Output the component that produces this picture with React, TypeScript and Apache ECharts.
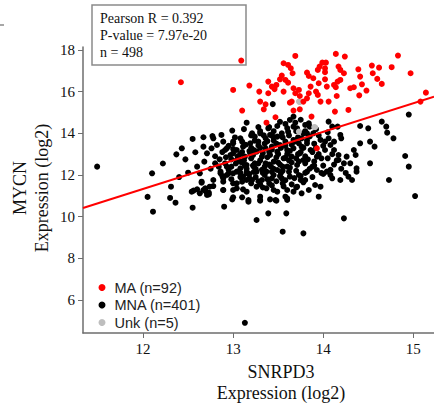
import React, { useEffect, useRef } from "react";
import * as echarts from "echarts";

const xTicks = [12, 13, 14, 15];
const yTicks = [6, 8, 10, 12, 14, 16, 18];
const legendNames = ["MA (n=92)", "MNA (n=401)", "Unk (n=5)"];
const statLines = ["Pearson R = 0.392", "P-value = 7.97e-20", "n = 498"];
const fitLine = [[11.333, 10.42], [15.23, 15.76]];

const maPoints = [
  [13.09, 17.49], [13.69, 17.71], [14.14, 17.81], [14.24, 17.68], [14.83, 17.73],
  [13.56, 17.36], [13.61, 17.28], [13.64, 17.12], [13.66, 16.88], [13.99, 17.39],
  [14.03, 17.39], [13.96, 17.2], [14.02, 17.12], [13.94, 17.04], [14.02, 16.93],
  [13.82, 16.91], [13.84, 16.75], [13.89, 16.64], [14.17, 17.2], [14.19, 17.04],
  [14.23, 16.88], [14.39, 17.07], [14.54, 17.25], [14.62, 17.15], [14.76, 17.17],
  [14.97, 16.88], [14.55, 16.88], [14.6, 16.61], [14.65, 16.37], [14.41, 16.72],
  [14.43, 16.35], [14.3, 16.16], [14.34, 16.21], [14.4, 15.82], [14.19, 16.56],
  [14.16, 16.48], [14.14, 16.21], [14.15, 15.79], [14.12, 16.32], [14.04, 16.24],
  [13.95, 16.4], [14.02, 16.59], [13.54, 16.77], [13.52, 16.59], [13.58, 16.56],
  [13.61, 16.43], [13.39, 16.48], [13.43, 16.24], [13.48, 16.32], [13.56, 16.0],
  [13.67, 16.16], [13.73, 16.08], [13.69, 15.92], [13.74, 15.79], [13.84, 15.92],
  [13.86, 16.24], [13.92, 16.0], [13.94, 15.84], [13.97, 15.52], [14.06, 15.52],
  [13.82, 15.68], [13.78, 15.52], [13.65, 15.52], [13.0, 16.08], [13.18, 16.29],
  [13.39, 15.92], [13.3, 15.52], [13.36, 15.39], [13.34, 15.15], [13.1, 15.09],
  [13.47, 14.77], [13.67, 15.09], [13.74, 15.15], [13.87, 14.8], [14.13, 15.04],
  [14.28, 15.12], [15.14, 15.95], [15.08, 15.52], [12.42, 16.45], [13.93, 13.28],
  [13.37, 14.51], [13.63, 15.47], [13.29, 16.0], [14.48, 16.05], [13.46, 16.12]
];

const unkPoints = [
  [13.73, 15.52], [13.91, 14.29], [13.73, 14.08], [13.74, 15.5], [13.9, 14.3]
];

const mnaPoints = [
  [13.13, 4.91], [11.49, 12.4], [12.1, 12.08], [12.11, 10.24], [12.31, 11.44],
  [12.36, 10.67], [12.55, 10.43], [12.37, 12.99], [12.43, 13.28], [12.47, 12.75],
  [12.55, 13.73], [12.58, 13.09], [12.5, 12.11], [12.6, 12.4], [12.63, 12.08],
  [12.65, 11.68], [12.69, 11.36], [12.56, 11.25], [12.6, 11.31], [12.73, 11.07],
  [12.7, 11.2], [12.78, 11.47], [12.89, 11.28], [12.9, 10.48], [12.99, 10.83],
  [13.0, 11.28], [13.04, 11.6], [13.11, 11.31], [13.17, 10.8], [13.26, 9.84],
  [12.67, 13.81], [12.78, 13.76], [12.87, 13.92], [12.99, 14.13], [13.15, 14.51],
  [13.21, 14.0], [12.67, 13.36], [12.71, 13.04], [12.68, 12.64], [12.76, 13.28],
  [12.82, 13.44], [12.89, 13.6], [12.93, 13.28], [13.0, 13.6], [13.08, 13.76],
  [13.11, 13.36], [13.19, 13.52], [13.24, 13.84], [13.23, 13.2], [13.0, 13.04],
  [13.08, 12.64], [12.8, 12.56], [12.86, 12.16], [12.95, 12.08], [13.04, 12.16],
  [13.15, 12.16], [12.93, 12.4], [13.15, 11.76], [13.23, 12.4], [12.89, 11.84],
  [13.11, 11.92], [12.77, 13.87], [13.3, 14.0], [13.28, 13.6], [13.36, 13.76],
  [13.39, 14.24], [13.49, 14.35], [13.58, 14.45], [13.41, 13.92], [13.49, 13.84],
  [13.54, 14.0], [13.61, 14.08], [13.69, 14.51], [13.71, 14.24], [13.8, 14.4],
  [13.82, 14.0], [13.76, 13.76], [13.67, 13.68], [13.58, 13.6], [13.52, 13.44],
  [13.43, 13.36], [13.36, 13.28], [13.26, 13.12], [13.19, 13.04], [13.32, 12.88],
  [13.41, 12.96], [13.49, 13.12], [13.6, 13.2], [13.67, 13.28], [13.76, 13.36],
  [13.82, 13.52], [13.74, 13.04], [13.65, 12.88], [13.56, 12.8], [13.45, 12.64],
  [13.36, 12.56], [13.24, 12.56], [13.15, 12.48], [13.08, 12.32], [13.0, 12.08],
  [12.93, 12.0], [12.86, 12.08], [12.84, 12.4], [12.91, 12.56], [13.04, 12.72],
  [13.13, 12.88], [12.97, 12.96], [13.04, 13.2], [13.0, 13.52], [12.91, 13.2],
  [13.15, 12.08], [13.26, 12.16], [13.37, 12.16], [13.49, 12.24], [13.6, 12.4],
  [13.71, 12.48], [13.8, 12.56], [13.82, 12.16], [13.73, 12.0], [13.63, 11.92],
  [13.54, 11.84], [13.43, 11.84], [13.32, 11.76], [13.21, 11.76], [13.1, 11.68],
  [13.0, 11.6], [12.89, 11.68], [12.78, 11.76], [12.74, 11.44], [12.67, 11.28],
  [12.65, 11.63], [12.54, 11.2], [12.63, 11.12], [12.71, 11.04], [12.89, 11.28],
  [13.04, 11.36], [13.15, 11.2], [13.26, 11.44], [13.37, 11.36], [13.49, 11.2],
  [13.6, 11.28], [13.71, 11.44], [13.8, 11.76], [13.76, 11.12], [13.58, 10.96],
  [13.3, 10.96], [13.1, 10.93], [13.0, 10.93], [13.44, 15.4], [13.84, 14.48],
  [13.85, 14.32], [14.1, 14.32], [14.16, 14.32], [14.41, 14.35], [14.5, 14.24],
  [14.65, 14.56], [14.7, 14.32], [14.71, 14.03], [14.78, 13.76], [14.41, 13.52],
  [14.52, 13.6], [14.57, 13.36], [14.34, 13.2], [14.36, 12.96], [14.19, 13.92],
  [14.2, 13.76], [14.06, 13.76], [14.08, 13.44], [13.97, 13.68], [14.02, 13.2],
  [14.12, 13.2], [14.17, 12.96], [14.26, 12.88], [14.17, 12.72], [14.23, 12.56],
  [14.3, 12.56], [14.37, 12.32], [14.37, 12.16], [14.32, 11.76], [14.52, 12.56],
  [14.91, 12.91], [14.95, 12.4], [14.73, 11.76], [15.02, 10.99], [14.04, 12.16],
  [14.0, 12.05], [14.1, 11.84], [14.19, 11.76], [14.28, 11.92], [13.93, 12.24],
  [13.97, 11.44], [13.91, 11.52], [13.95, 10.96], [13.84, 11.28], [13.75, 11.76],
  [13.6, 10.88], [13.59, 10.16], [13.39, 10.16], [13.55, 9.28], [13.78, 9.2],
  [14.23, 9.92], [13.47, 10.8], [13.3, 10.8], [13.45, 11.28], [13.67, 11.2],
  [13.88, 12.4], [13.78, 12.72], [13.86, 13.2], [13.93, 12.88], [13.73, 13.52],
  [13.78, 14.0], [13.67, 14.32], [13.89, 14.0], [13.63, 14.64], [13.67, 14.8],
  [14.06, 14.56], [13.17, 10.72], [13.3, 10.77], [13.41, 10.83], [13.48, 10.77],
  [13.6, 10.8], [12.73, 11.15], [14.95, 14.9], [13.3, 12.7], [13.4, 12.5],
  [13.5, 12.6], [13.55, 12.4], [13.45, 12.3], [13.35, 12.4], [13.25, 12.3],
  [13.2, 12.8], [13.3, 13.3], [13.4, 13.1], [13.5, 13.0], [13.6, 13.0],
  [13.7, 12.8], [13.65, 12.6], [13.55, 12.2], [13.45, 12.0], [13.35, 12.0],
  [13.25, 11.9], [13.15, 12.3], [13.1, 12.6], [13.05, 12.9], [13.1, 13.1],
  [13.2, 13.3], [13.35, 13.5], [13.45, 13.65], [13.55, 13.8], [13.65, 13.45],
  [13.75, 13.1], [13.8, 12.9], [13.7, 12.2], [13.62, 12.15], [13.52, 11.95],
  [13.4, 11.6], [13.3, 11.55], [13.2, 11.6], [13.55, 11.6], [13.65, 11.55],
  [13.75, 11.95], [13.85, 12.3], [13.9, 12.65], [13.95, 13.0], [14.0, 13.4],
  [13.9, 13.5], [13.85, 13.85], [13.92, 14.2], [14.05, 14.05], [14.12, 13.6],
  [14.05, 12.8], [14.12, 12.5], [14.0, 12.45], [14.08, 12.0], [12.95, 12.25],
  [12.85, 12.75], [12.8, 12.9], [12.75, 12.3], [12.95, 13.4], [13.02, 13.8],
  [13.12, 14.2], [13.28, 14.3], [13.45, 14.1], [13.52, 14.55], [13.75, 14.65],
  [13.38, 12.85], [13.48, 12.85], [13.58, 12.82], [13.28, 12.55], [13.18, 12.05],
  [13.08, 11.9], [12.98, 11.8], [12.88, 11.95], [12.22, 12.55], [12.3, 10.9],
  [12.4, 11.9], [12.05, 10.95], [13.22, 12.95], [13.33, 13.05], [13.43, 13.22],
  [13.53, 13.3], [13.63, 13.15], [13.72, 13.0], [13.62, 12.7], [13.52, 12.5],
  [13.42, 12.4], [13.32, 12.25], [13.22, 12.45], [13.12, 12.7], [13.18, 13.15],
  [13.28, 13.42], [13.38, 13.62], [13.48, 13.5], [13.58, 13.4], [13.68, 13.6],
  [13.78, 13.3], [13.88, 13.1], [13.83, 12.75], [13.73, 12.65], [13.63, 12.35],
  [13.53, 12.1], [13.43, 12.15], [13.33, 12.1], [13.23, 12.15], [13.13, 12.45],
  [13.03, 12.55], [12.98, 12.75], [13.08, 13.0], [13.14, 13.45], [13.24, 13.65],
  [13.34, 13.9], [13.44, 13.85], [13.62, 13.9], [13.72, 13.8], [13.82, 13.65],
  [13.92, 13.3], [13.98, 12.8], [13.9, 12.45], [13.8, 12.1], [13.68, 11.85],
  [13.58, 11.75], [13.48, 11.7], [13.38, 11.8], [13.28, 11.7], [13.18, 11.85],
  [13.08, 12.1], [12.98, 12.4], [12.92, 12.85], [12.88, 13.1], [13.0, 13.25],
  [13.1, 13.6], [13.2, 13.9], [13.3, 14.1], [13.4, 14.3], [13.6, 14.25],
  [13.7, 14.1], [13.8, 14.1], [13.95, 13.9], [14.02, 13.6], [14.1, 13.0],
  [14.15, 12.7], [14.2, 12.3], [14.25, 12.1], [14.08, 12.25], [13.98, 12.1],
  [13.88, 11.9], [13.78, 11.65], [13.7, 11.4], [13.56, 11.45], [13.43, 11.5],
  [13.33, 11.4]
];

const SERIF = "Liberation Serif, Times New Roman, serif";
const SANS = "Liberation Sans, Arial, sans-serif";

export default function App() {
  const ref = useRef<HTMLDivElement>(null);
  useEffect(() => {
    if (!ref.current) return;
    const chart = echarts.init(ref.current, null, { renderer: "svg" });
    const axisColor = "#6e6e6e";
    chart.setOption({
      animation: false,
      backgroundColor: "#ffffff",
      grid: { left: 83, right: 0, top: 47, bottom: 75, containLabel: false },
      xAxis: {
        type: "value",
        min: 11.333,
        max: 15.23,
        axisLine: { show: true, onZero: false, lineStyle: { color: axisColor, width: 1.5 } },
        axisTick: { show: true, inside: false, length: 5, customValues: xTicks, lineStyle: { color: axisColor } },
        axisLabel: { customValues: xTicks, margin: 8, color: "#111", fontFamily: SERIF, fontSize: 15 },
        splitLine: { show: false }
      },
      yAxis: {
        type: "value",
        min: 4.42,
        max: 18.14,
        axisLine: { show: true, onZero: false, lineStyle: { color: axisColor, width: 1.5 } },
        axisTick: { show: true, inside: false, length: 5, customValues: yTicks, lineStyle: { color: axisColor } },
        axisLabel: { customValues: yTicks, margin: 8, color: "#111", fontFamily: SERIF, fontSize: 15 },
        splitLine: { show: false }
      },
      legend: {
        data: legendNames,
        orient: "vertical",
        left: 93.5,
        top: 275,
        itemWidth: 7,
        itemHeight: 7,
        itemGap: 2.5,
        icon: "circle",
        textStyle: { fontFamily: SANS, fontSize: 14.5, color: "#222", lineHeight: 15, padding: [0, 0, 0, 4] }
      },
      series: [
        {
          name: legendNames[1],
          type: "scatter",
          data: mnaPoints,
          symbolSize: 6,
          itemStyle: { color: "#000000", opacity: 1 }
        },
        {
          name: legendNames[2],
          type: "scatter",
          data: unkPoints,
          symbolSize: 6,
          itemStyle: { color: "#bebebe", opacity: 1 }
        },
        {
          name: "fit",
          type: "line",
          data: fitLine,
          showSymbol: false,
          symbol: "none",
          lineStyle: { color: "#ff0000", width: 2 },
          silent: true
        },
        {
          name: legendNames[0],
          type: "scatter",
          data: maPoints,
          symbolSize: 6,
          itemStyle: { color: "#ff0000", opacity: 1 }
        }
      ],
      graphic: [
        {
          type: "rect",
          shape: { x: 92, y: 5, width: 154, height: 60 },
          style: { fill: "#fff", stroke: "#8a8a8a", lineWidth: 1.5 }
        },
        ...statLines.map((t, i) => ({
          type: "text",
          x: 100,
          y: 18 + i * 17,
          style: { text: t, fontFamily: SERIF, fontSize: 14, fill: "#111", verticalAlign: "middle" }
        })),
        {
          type: "text",
          x: 281,
          y: 372,
          style: { text: "SNRPD3", fontFamily: SERIF, fontSize: 18, fill: "#111", align: "center", verticalAlign: "middle" }
        },
        {
          type: "text",
          x: 281,
          y: 393,
          style: { text: "Expression (log2)", fontFamily: SERIF, fontSize: 18, fill: "#111", align: "center", verticalAlign: "middle" }
        },
        {
          type: "text",
          x: 20,
          y: 188,
          rotation: Math.PI / 2,
          style: { text: "MYCN", fontFamily: SERIF, fontSize: 18, fill: "#111", align: "center", verticalAlign: "middle" }
        },
        {
          type: "text",
          x: 42,
          y: 188,
          rotation: Math.PI / 2,
          style: { text: "Expression (log2)", fontFamily: SERIF, fontSize: 18, fill: "#111", align: "center", verticalAlign: "middle" }
        },
        {
          type: "line",
          shape: { x1: 0, y1: 25, x2: 4, y2: 25 },
          style: { stroke: "#8a8a8a", lineWidth: 1.5 }
        }
      ]
    });
    return () => chart.dispose();
  }, []);
  return (
    <div
      ref={ref}
      style={{ position: "fixed", left: 0, top: 0, width: 434, height: 408 }}
    />
  );
}
